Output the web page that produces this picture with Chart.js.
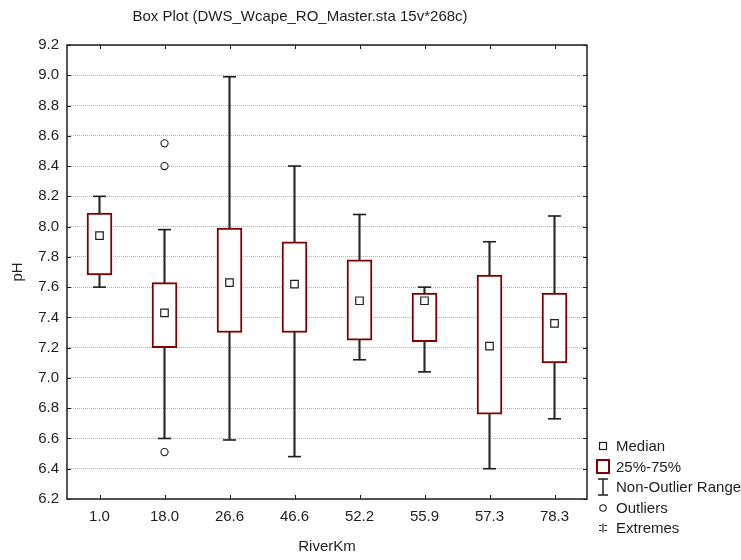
<!DOCTYPE html>
<html>
<head>
<meta charset="utf-8">
<script src="https://cdn.jsdelivr.net/npm/chart.js@4.4.1/dist/chart.umd.min.js"></script>
<style>
  body { margin: 0; background: #fff; }
  canvas { display: block; }
</style>
</head>
<body>
<canvas id="boxChart" width="741" height="560"></canvas>
<script>
// pH by river km
const riverKm = ['1.0', '18.0', '26.6', '46.6', '52.2', '55.9', '57.3', '78.3'];
const medians = [7.94, 7.43, 7.63, 7.62, 7.51, 7.51, 7.21, 7.36];
const q25 = [7.68, 7.20, 7.30, 7.30, 7.25, 7.24, 6.76, 7.10];
const q75 = [8.09, 7.63, 7.99, 7.90, 7.78, 7.56, 7.68, 7.56];
const rangeMin = [7.60, 6.60, 6.59, 6.48, 7.12, 7.04, 6.40, 6.73];
const rangeMax = [8.20, 7.98, 8.99, 8.40, 8.08, 7.60, 7.90, 8.07];
const outlierKm = ['18.0', '18.0', '18.0'];
const outlierPh = [8.55, 8.40, 6.51];
const yTicks = { min: 6.2, max: 9.2, step: 0.2 };

const titleText = 'Box Plot (DWS_Wcape_RO_Master.sta 15v*268c)';
const legendLabels = ['Median', '25%-75%', 'Non-Outlier Range', 'Outliers', 'Extremes'];

const FONT = '"Liberation Sans", Arial, sans-serif';
const FSIZE = 15;
const BOX_RED = '#800000';
const INK = '#1e1e1e';

const boxes = riverKm.map((k, i) => [q25[i], q75[i]]);
const whiskers = riverKm.map((k, i) => [rangeMin[i], rangeMax[i]]);
const caps = [];
riverKm.forEach((k, i) => {
    caps.push({ x: k, y: rangeMin[i] });
    caps.push({ x: k, y: rangeMax[i] });
});
const medianPts = riverKm.map((k, i) => ({ x: k, y: medians[i] }));
const outlierPts = outlierKm.map((k, i) => ({ x: k, y: outlierPh[i] }));

// frame, inward ticks, title and legend
const decorations = {
    id: 'decorations',
    afterDraw(chart) {
        const ctx = chart.ctx;
        const a = chart.chartArea;
        const xs = chart.scales.x;
        const ys = chart.scales.y;
        ctx.save();

        ctx.strokeStyle = INK;
        ctx.lineWidth = 1.5;
        ctx.strokeRect(a.left, a.top, a.right - a.left, a.bottom - a.top);

        ctx.lineWidth = 1;
        ctx.beginPath();
        xs.ticks.forEach((t, i) => {
            const px = Math.round(xs.getPixelForTick(i)) + 0.5;
            ctx.moveTo(px, a.bottom); ctx.lineTo(px, a.bottom - 4);
            ctx.moveTo(px, a.top); ctx.lineTo(px, a.top + 4);
        });
        ys.ticks.forEach((t, i) => {
            const py = Math.round(ys.getPixelForTick(i)) + 0.5;
            ctx.moveTo(a.left, py); ctx.lineTo(a.left + 4, py);
            ctx.moveTo(a.right, py); ctx.lineTo(a.right - 4, py);
        });
        ctx.stroke();

        ctx.fillStyle = INK;
        ctx.font = FSIZE + 'px ' + FONT;
        ctx.textAlign = 'center';
        ctx.textBaseline = 'middle';
        ctx.fillText(titleText, 300, 17);

        // legend
        const ix = 603, tx = 616;
        const rows = [446, 466.5, 487, 508, 528];
        ctx.textAlign = 'left';
        legendLabels.forEach((lab, i) => ctx.fillText(lab, tx, rows[i] + 1));

        ctx.lineWidth = 1.2;
        ctx.strokeStyle = INK;
        ctx.fillStyle = '#fff';
        ctx.fillRect(ix - 3.5, rows[0] - 3.5, 7, 7);
        ctx.strokeRect(ix - 3.5, rows[0] - 3.5, 7, 7);

        ctx.lineWidth = 2;
        ctx.strokeStyle = BOX_RED;
        ctx.strokeRect(ix - 6, rows[1] - 6.5, 12, 13);

        ctx.strokeStyle = INK;
        ctx.lineWidth = 1.5;
        ctx.beginPath();
        ctx.moveTo(ix, rows[2] - 8); ctx.lineTo(ix, rows[2] + 8);
        ctx.moveTo(ix - 5, rows[2] - 8); ctx.lineTo(ix + 5, rows[2] - 8);
        ctx.moveTo(ix - 5, rows[2] + 8); ctx.lineTo(ix + 5, rows[2] + 8);
        ctx.stroke();

        ctx.lineWidth = 1.1;
        ctx.beginPath();
        ctx.arc(ix, rows[3], 3.2, 0, Math.PI * 2);
        ctx.stroke();

        ctx.beginPath();
        ctx.moveTo(ix, rows[4] - 4.5); ctx.lineTo(ix, rows[4] + 4.5);
        ctx.moveTo(ix - 4, rows[4] - 2.5); ctx.lineTo(ix - 1.5, rows[4] - 2.5);
        ctx.moveTo(ix + 1.5, rows[4] - 2.5); ctx.lineTo(ix + 4, rows[4] - 2.5);
        ctx.moveTo(ix - 4, rows[4] + 2.5); ctx.lineTo(ix - 1.5, rows[4] + 2.5);
        ctx.moveTo(ix + 1.5, rows[4] + 2.5); ctx.lineTo(ix + 4, rows[4] + 2.5);
        ctx.stroke();

        ctx.restore();
    }
};

new Chart(document.getElementById('boxChart').getContext('2d'), {
    type: 'bar',
    data: {
        labels: riverKm,
        datasets: [
            {
                type: 'line',
                label: 'Median',
                data: medianPts,
                showLine: false,
                pointStyle: 'rect',
                pointRadius: 5.3,
                pointBorderWidth: 1.2,
                pointBorderColor: INK,
                pointBackgroundColor: '#fff',
                order: 0
            },
            {
                type: 'line',
                label: 'Outliers',
                data: outlierPts,
                showLine: false,
                pointStyle: 'circle',
                pointRadius: 3.6,
                pointBorderWidth: 1.1,
                pointBorderColor: INK,
                pointBackgroundColor: '#fff',
                order: 1
            },
            {
                label: '25%-75%',
                data: boxes,
                backgroundColor: '#fff',
                borderColor: BOX_RED,
                borderWidth: 2,
                borderSkipped: false,
                barThickness: 25,
                grouped: false,
                order: 2
            },
            {
                type: 'line',
                label: 'Caps',
                data: caps,
                showLine: false,
                pointStyle: 'line',
                pointRadius: 6.5,
                pointBorderWidth: 1.6,
                pointBorderColor: INK,
                order: 3
            },
            {
                label: 'Non-Outlier Range',
                data: whiskers,
                backgroundColor: '#2a2a2a',
                borderWidth: 0,
                barThickness: 1.5,
                grouped: false,
                order: 4
            }
        ]
    },
    options: {
        responsive: false,
        animation: false,
        layout: {
            padding: { left: 0, top: 45, right: 154, bottom: 0 }
        },
        plugins: {
            legend: { display: false },
            title: { display: false },
            tooltip: { enabled: false }
        },
        scales: {
            x: {
                type: 'category',
                grid: { display: false, drawTicks: false },
                border: { display: false },
                ticks: {
                    color: INK,
                    padding: 9,
                    font: { family: FONT, size: FSIZE }
                },
                title: {
                    display: true,
                    text: 'RiverKm',
                    color: INK,
                    padding: { top: 3, bottom: 4 },
                    font: { family: FONT, size: FSIZE }
                },
                afterFit(scale) { scale.height = 61; }
            },
            y: {
                min: yTicks.min,
                max: yTicks.max,
                grid: {
                    color: '#b4b4b4',
                    lineWidth: 1,
                    drawTicks: false
                },
                border: { display: false, dash: [1, 1] },
                ticks: {
                    stepSize: yTicks.step,
                    color: INK,
                    padding: 8,
                    font: { family: FONT, size: FSIZE },
                    callback: v => Number(v).toFixed(1)
                },
                title: {
                    display: true,
                    text: 'pH',
                    color: INK,
                    padding: { top: 9, bottom: 4 },
                    font: { family: FONT, size: FSIZE }
                },
                afterFit(scale) { scale.width = 67; }
            }
        }
    },
    plugins: [decorations]
});
</script>
</body>
</html>
